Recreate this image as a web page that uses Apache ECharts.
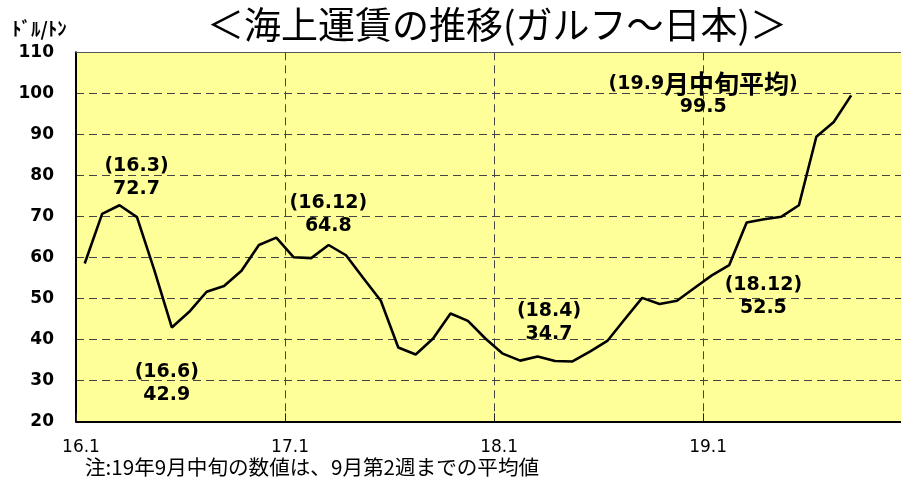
<!DOCTYPE html>
<html>
<head>
<meta charset="utf-8">
<script src="https://cdn.jsdelivr.net/npm/echarts@6/dist/echarts.min.js"></script>
<style>html,body{margin:0;padding:0;background:#fff}#c{width:901px;height:479px}</style>
</head>
<body>
<div id="c"></div>
<script>
// Months (16.1 = Jan 2016 ... 19.9 = Sep 2019)
var months = ['16.1','16.2','16.3','16.4','16.5','16.6','16.7','16.8','16.9','16.10','16.11','16.12',
              '17.1','17.2','17.3','17.4','17.5','17.6','17.7','17.8','17.9','17.10','17.11','17.12',
              '18.1','18.2','18.3','18.4','18.5','18.6','18.7','18.8','18.9','18.10','18.11','18.12',
              '19.1','19.2','19.3','19.4','19.5','19.6','19.7','19.8','19.9'];
// Ocean freight, Gulf -> Japan (USD/ton)
var freight = [58.5,70.6,72.7,69.8,56.8,42.9,46.7,51.6,53.0,56.7,63.0,64.8,
               60.0,59.8,63.0,60.5,54.9,49.4,38.0,36.3,40.2,46.3,44.5,40.2,
               36.5,34.8,35.8,34.7,34.6,37.0,39.6,44.9,50.1,48.6,49.4,52.5,
               55.6,58.1,68.5,69.3,69.9,72.7,89.4,93.0,99.5];
var xTickLabels = ['16.1','17.1','18.1','19.1'];
var yTicks = [20,30,40,50,60,70,80,90,100,110];
// annotated months and their texts
var annoMonths = ['16.3','16.6','16.12','18.4','19.9','18.12'];
var annoTexts = [
  '{d|(16.3)}\n{d|72.7}',
  '{d|(16.6)}\n{d|42.9}',
  '{d|(16.12)}\n{d|64.8}',
  '{d|(18.4)}\n{d|34.7}',
  '{d|(19.9}{c|月中旬平均}{d|)}\n{d|99.5}',
  '{d|(18.12)}\n{d|52.5}'
];
var annoOffsets = [[17,-28],[-5,56],[52,-23],[-6,-38],[-148,0],[69,9]];

var lineData = freight.map(function(v,i){ return [i + 0.5, v]; });
var markData = annoMonths.map(function(m,k){
  var i = months.indexOf(m);
  return {coord:[i + 0.5, freight[i]], label:{formatter: annoTexts[k], offset: annoOffsets[k]}};
});

var chart = echarts.init(document.getElementById('c'), null, {renderer:'canvas'});
chart.setOption({
  animation:false,
  backgroundColor:'#ffffff',
  title:[
    {text:'＜海上運賃の推移(ガルフ～日本)＞', left:207, top:3, padding:0,
     textStyle:{fontFamily:'Noto Sans CJK JP', fontSize:37, fontWeight:'normal', color:'#000', lineHeight:44}},
    {text:'ﾄﾞﾙ/ﾄﾝ', left:12, top:19, padding:0,
     textStyle:{fontFamily:'Noto Sans CJK JP', fontSize:19, fontWeight:'bold', color:'#000', lineHeight:20}},
    {text:'注:19年9月中旬の数値は、9月第2週までの平均値', left:85, top:455, padding:0,
     textStyle:{fontFamily:'Noto Sans CJK JP', fontSize:20.6, fontWeight:'normal', color:'#000', lineHeight:24}}
  ],
  grid:{left:76, top:52.3, bottom:57.7, right:0, show:true, backgroundColor:'#FFFF99', borderWidth:0},
  xAxis:[{
    type:'value', min:0, max:47.36, interval:12,
    axisLine:{show:true, lineStyle:{color:'#000', width:2}},
    axisTick:{show:true, inside:true, length:8, lineStyle:{color:'#222', width:1}},
    axisLabel:{margin:18, fontFamily:'DejaVu Sans', fontSize:17, color:'#000', showMaxLabel:false,
      padding:[0,0,0,10],
      formatter:function(v){ return (v % 12 === 0) ? (xTickLabels[v/12] || '') : ''; }},
    splitLine:{show:true, lineStyle:{color:'#444', width:1, type:[8,5]}}
  },{
    type:'value', position:'top', min:0, max:47.36,
    axisLine:{show:true, lineStyle:{color:'#555', width:1}},
    axisTick:{show:false}, axisLabel:{show:false}, splitLine:{show:false}
  }],
  yAxis:{
    type:'value', min:yTicks[0], max:yTicks[yTicks.length-1], interval:10,
    axisLine:{show:true, lineStyle:{color:'#000', width:2}},
    axisTick:{show:false},
    axisLabel:{margin:22, fontFamily:'DejaVu Sans', fontWeight:'bold', fontSize:17, color:'#000'},
    splitLine:{show:true, lineStyle:{color:'#444', width:1, type:[8,5]}}
  },
  series:[{
    type:'line', data:lineData, symbol:'none', smooth:false,
    lineStyle:{color:'#000', width:2.6},
    markPoint:{
      symbol:'circle', symbolSize:0, silent:true,
      label:{show:true, position:'inside', color:'#000', align:'center', verticalAlign:'middle',
        rich:{
          d:{fontFamily:'DejaVu Sans', fontWeight:'bold', fontSize:19, lineHeight:23, color:'#000'},
          c:{fontFamily:'Noto Sans CJK JP', fontWeight:'bold', fontSize:25, lineHeight:23, color:'#000'}
        }},
      data:markData
    }
  }]
});
</script>
</body>
</html>
